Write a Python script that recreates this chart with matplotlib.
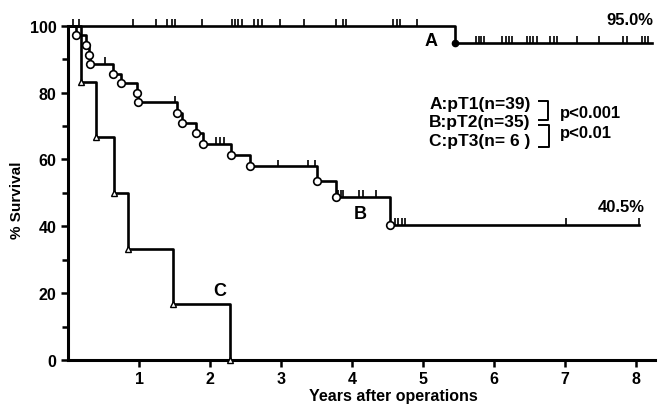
import numpy as np
import matplotlib.pyplot as plt

# Kaplan-Meier curves (years, % survival)
a_death_t = [5.45]
a_death_s = [95.0]
a_end = 8.22
a_cens_100 = [0.07, 0.16, 0.92, 1.24, 1.39, 1.46, 1.51, 1.88, 2.31, 2.35, 2.40, 2.45,
              2.62, 2.68, 2.73, 2.99, 3.32, 3.78, 3.88, 3.91, 4.58, 4.63, 4.67, 4.92]
a_cens_95 = [5.75, 5.79, 5.82, 5.86, 6.11, 6.17, 6.21, 6.25, 6.46, 6.51, 6.55, 6.60,
             6.79, 6.85, 6.89, 7.17, 7.48, 7.82, 7.88, 8.08, 8.13, 8.17]

b_death_t = [0.11, 0.25, 0.30, 0.31, 0.63, 0.75, 0.97, 0.98, 1.54, 1.61, 1.80, 1.90,
             2.29, 2.57, 3.51, 3.77, 4.53]
b_death_s = [97.1, 94.3, 91.4, 88.6, 85.7, 82.9, 80.0, 77.1, 74.0, 70.9, 67.8, 64.7,
             61.3, 57.9, 53.6, 48.9, 40.5]
b_end = 8.05
b_cens_t = [0.52, 1.50, 2.09, 2.14, 2.19, 2.96, 3.38, 3.48, 3.81, 3.84, 3.88, 4.10,
            4.15, 4.34, 4.61, 4.65, 4.70, 4.75, 7.01, 8.05]

c_death_t = [0.18, 0.39, 0.65, 0.85, 1.48, 2.28]
c_death_s = [83.3, 66.7, 50.0, 33.3, 16.7, 0.0]

legend_lines = ['A:pT1(n=39)', 'B:pT2(n=35)', 'C:pT3(n= 6 )']
p_values = ['p<0.001', 'p<0.01']

plt.rcParams['font.family'] = ['Liberation Sans', 'DejaVu Sans']
plt.rcParams['font.weight'] = 'bold'
plt.rcParams['axes.labelweight'] = 'bold'


def step_xy(times, surv, end):
    xs = [0]
    ys = [100]
    cur = 100
    for t, s in zip(times, surv):
        xs += [t, t]
        ys += [cur, s]
        cur = s
    xs.append(end)
    ys.append(cur)
    return xs, ys


def level_at(t, times, surv):
    cur = 100
    for tt, s in zip(times, surv):
        if t >= tt:
            cur = s
    return cur


fig = plt.figure(figsize=(6.61, 4.06), dpi=100)
ax = fig.add_axes([0.103, 0.111, 0.888, 0.823])

lw = 1.9
tick_h = 2.0

# curve A
xs, ys = step_xy(a_death_t, a_death_s, a_end)
ax.plot(xs, ys, color='black', lw=lw, clip_on=False)
ax.plot(a_death_t, a_death_s, 'o', color='black', ms=4.5, clip_on=False)
ax.vlines(a_cens_100, 100, 100 + tick_h, color='black', lw=1.2, clip_on=False)
ax.vlines(a_cens_95, 95.0, 95.0 + tick_h, color='black', lw=1.2, clip_on=False)

# curve B
xs, ys = step_xy(b_death_t, b_death_s, b_end)
ax.plot(xs, ys, color='black', lw=lw, clip_on=False)
ax.plot(b_death_t, b_death_s, 'o', mfc='white', mec='black', mew=1.2, ms=5.5, clip_on=False,
        zorder=5)
b_lv = [level_at(t, b_death_t, b_death_s) for t in b_cens_t]
ax.vlines(b_cens_t, b_lv, np.array(b_lv) + tick_h, color='black', lw=1.2)

# curve C
xs, ys = step_xy(c_death_t, c_death_s, c_death_t[-1])
ax.plot(xs, ys, color='black', lw=lw, clip_on=False)
ax.plot(c_death_t, c_death_s, '^', mfc='white', mec='black', mew=1.0, ms=4.5, clip_on=False,
        zorder=5)

# labels on curves
ax.text(5.12, 95.6, 'A', fontsize=13, ha='center', va='center')
ax.text(4.11, 43.7, 'B', fontsize=13, ha='center', va='center')
ax.text(2.14, 20.7, 'C', fontsize=13, ha='center', va='center')
ax.text(8.24, 101.8, '95.0%', fontsize=12, ha='right', va='center')
ax.text(8.13, 45.8, '40.5%', fontsize=12, ha='right', va='center')

# legend block with brackets
for txt, yy in zip(legend_lines, [76.6, 71.3, 65.7]):
    ax.text(5.09, yy, txt, fontsize=12.5, ha='left', va='center')
ax.plot([6.64, 6.76, 6.76, 6.64], [77.6, 77.6, 71.7, 71.7], color='black', lw=1.4)
ax.plot([6.64, 6.78, 6.78, 6.64], [70.3, 70.3, 63.8, 63.8], color='black', lw=1.4)
ax.text(6.93, 74.2, p_values[0], fontsize=12, ha='left', va='center')
ax.text(6.93, 68.2, p_values[1], fontsize=12, ha='left', va='center')

ax.set_xlim(0, 8.27)
ax.set_ylim(0, 100)
ax.set_xticks(range(1, 9))
ax.set_yticks(range(0, 101, 20))
ax.set_yticks(range(10, 100, 20), minor=True)
ax.tick_params(axis='both', direction='out', length=5, width=1.8, labelsize=11.5)
ax.tick_params(axis='y', which='minor', length=4, width=1.8)
ax.tick_params(axis='x', pad=3)

for side in ['top', 'right']:
    ax.spines[side].set_visible(False)
for side in ['left', 'bottom']:
    ax.spines[side].set_linewidth(2.2)

ax.set_xlabel('Years after operations', fontsize=11.5)
ax.xaxis.set_label_coords(0.555, -0.083)
ax.set_ylabel('% Survival', fontsize=11)
ax.yaxis.set_label_coords(-0.075, 0.48)

plt.savefig('out.png', dpi=100)
